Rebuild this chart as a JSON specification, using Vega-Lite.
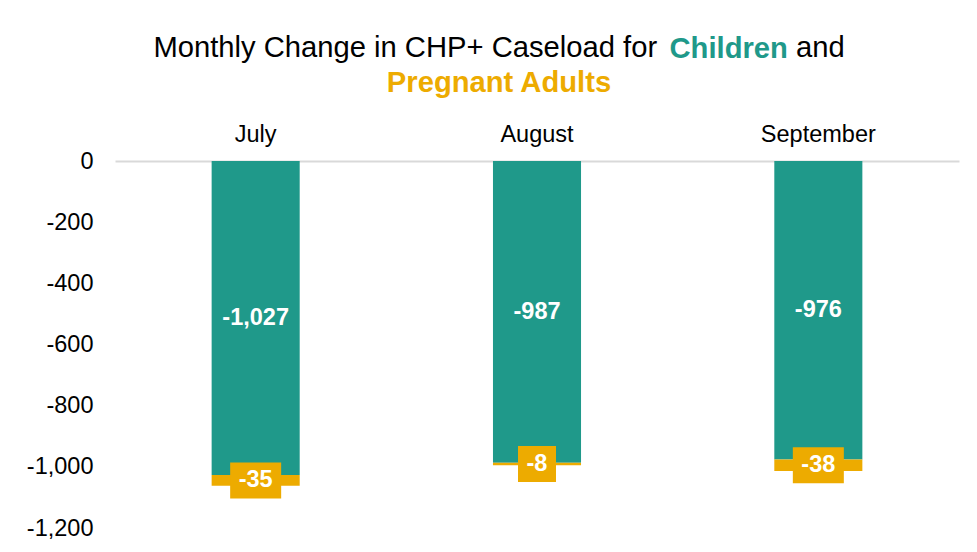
{
  "$schema": "https://vega.github.io/schema/vega-lite/v6.json",
  "width": 844,
  "height": 367,
  "autosize": {"type": "none"},
  "padding": {"left": 115, "top": 161, "right": 18, "bottom": 24},
  "background": "white",
  "config": {
    "view": {"stroke": null},
    "font": "Liberation Sans",
    "locale": {"number": {"decimal": ".", "thousands": ",", "grouping": [3], "currency": ["$", ""], "minus": "-"}},
    "axisY": {
      "grid": false,
      "domain": false,
      "ticks": false,
      "labelPadding": 22,
      "labelFontSize": 23.5,
      "labelColor": "black",
      "labelFont": "Liberation Sans",
      "titleAngle": 0,
      "titleAlign": "left",
      "titleBaseline": "alphabetic",
      "titleX": 554,
      "titleY": -104,
      "titleFont": "Liberation Sans",
      "titleFontSize": 29.2,
      "titleFontWeight": "bold",
      "titleColor": "#1F998A"
    }
  },
  "title": {
    "text": "Monthly Change in CHP+ Caseload for \u2002\u2002\u2002\u2002\u2002\u2002\u2002\u2002\u2009 and",
    "subtitle": "Pregnant Adults",
    "anchor": "middle",
    "frame": "group",
    "dx": -38,
    "font": "Liberation Sans",
    "fontSize": 29.2,
    "fontWeight": "normal",
    "color": "black",
    "subtitleFont": "Liberation Sans",
    "subtitleFontSize": 29.2,
    "subtitleFontWeight": "bold",
    "subtitleColor": "#EDAB00",
    "subtitlePadding": 6,
    "offset": -64
  },
  "data": {
    "values": [
      {"month": "July", "group": "Children", "value": -1027},
      {"month": "July", "group": "Pregnant Adults", "value": -35},
      {"month": "August", "group": "Children", "value": -987},
      {"month": "August", "group": "Pregnant Adults", "value": -8},
      {"month": "September", "group": "Children", "value": -976},
      {"month": "September", "group": "Pregnant Adults", "value": -38}
    ]
  },
  "transform": [
    {"stack": "value", "groupby": ["month"], "sort": [{"field": "group", "order": "ascending"}], "as": ["v0", "v1"]}
  ],
  "encoding": {
    "x": {
      "field": "month",
      "type": "nominal",
      "sort": ["July", "August", "September"],
      "scale": {"paddingInner": 0.687, "paddingOuter": 0.3435},
      "axis": {
        "orient": "top",
        "title": null,
        "labelAngle": 0,
        "labelFontSize": 23.5,
        "labelColor": "black",
        "labelFont": "Liberation Sans",
        "labelPadding": 15,
        "ticks": false,
        "grid": false,
        "domainColor": "#D9D9D9",
        "domainWidth": 2
      }
    }
  },
  "layer": [
    {
      "mark": {"type": "bar"},
      "encoding": {
        "y": {
          "field": "v0",
          "type": "quantitative",
          "title": "Children",
          "scale": {"domain": [-1200, 0], "nice": false},
          "axis": {"values": [0, -200, -400, -600, -800, -1000, -1200], "format": ",d"}
        },
        "y2": {"field": "v1"},
        "color": {
          "field": "group",
          "type": "nominal",
          "scale": {"domain": ["Children", "Pregnant Adults"], "range": ["#1F998A", "#EDAB00"]},
          "legend": null
        }
      }
    },
    {
      "transform": [
        {"filter": "datum.group === 'Pregnant Adults'"},
        {"fold": ["v0", "v1"], "as": ["k", "edge"]},
        {"aggregate": [{"op": "mean", "field": "edge", "as": "mid"}], "groupby": ["month", "group", "value"]}
      ],
      "mark": {"type": "point", "filled": true, "opacity": 1, "strokeWidth": 0, "color": "#EDAB00"},
      "encoding": {
        "y": {
          "field": "mid",
          "type": "quantitative",
          "title": "Children",
          "axis": {"values": [0, -200, -400, -600, -800, -1000, -1200], "format": ",d"}
        },
        "shape": {
          "condition": {"test": "datum.value > -10", "value": "M-1,-0.947L1,-0.947L1,0.947L-1,0.947Z"},
          "value": "M-1,-0.706L1,-0.706L1,0.706L-1,0.706Z"
        },
        "size": {
          "condition": {"test": "datum.value > -10", "value": 1444},
          "value": 2601
        }
      }
    },
    {
      "transform": [
        {"fold": ["v0", "v1"], "as": ["k", "edge"]},
        {"aggregate": [{"op": "mean", "field": "edge", "as": "mid"}], "groupby": ["month", "group", "value"]}
      ],
      "mark": {"type": "text", "color": "white", "fontWeight": "bold", "fontSize": 23.5, "font": "Liberation Sans", "baseline": "middle", "align": "center"},
      "encoding": {
        "y": {
          "field": "mid",
          "type": "quantitative",
          "title": "Children",
          "axis": {"values": [0, -200, -400, -600, -800, -1000, -1200], "format": ",d"}
        },
        "text": {"field": "value", "type": "quantitative", "format": ","}
      }
    }
  ]
}
